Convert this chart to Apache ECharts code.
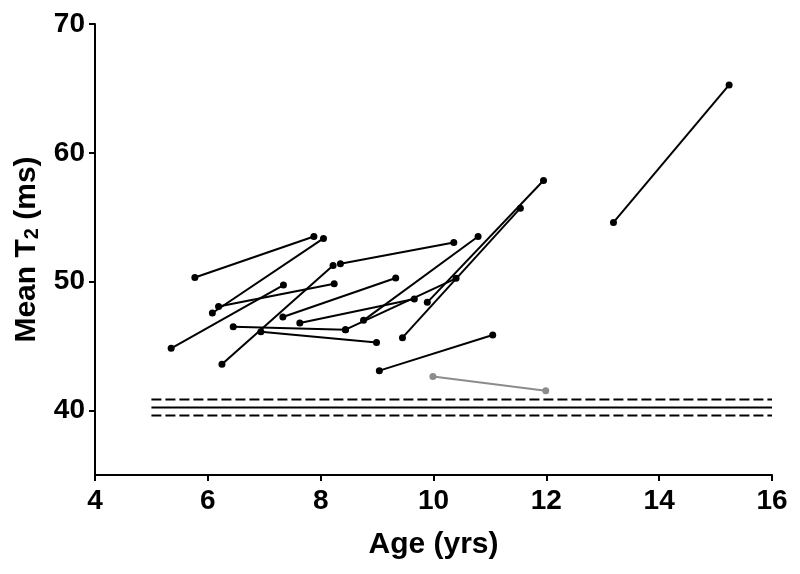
<!DOCTYPE html>
<html>
<head>
<meta charset="utf-8">
<script src="https://cdn.jsdelivr.net/npm/echarts@6/dist/echarts.min.js"></script>
<style>
  html, body { margin: 0; padding: 0; background: #fff; }
  #container { width: 800px; height: 574px; }
</style>
</head>
<body>
<div id="container"></div>
<script>
// paired measurements: first visit -> second visit
var startAge = [5.77, 6.08, 5.35, 6.19, 6.25, 8.35, 7.33, 6.45, 6.94, 7.63, 8.44, 8.76, 9.89, 9.45, 9.04, 13.19];
var startT2  = [50.33, 47.57, 44.83, 48.08, 43.59, 51.40, 47.26, 46.51, 46.12, 46.80, 46.28, 47.00, 48.40, 45.66, 43.10, 54.60];
var endAge   = [7.88, 8.05, 7.34, 8.24, 8.22, 10.36, 9.33, 8.44, 8.99, 9.66, 10.40, 10.79, 11.95, 11.54, 11.05, 15.24];
var endT2    = [53.51, 53.36, 49.74, 49.84, 51.26, 53.05, 50.29, 46.28, 45.29, 48.66, 50.26, 53.51, 57.85, 55.71, 45.87, 65.27];

// grey pair
var greyAge = [9.99, 11.99];
var greyT2  = [42.64, 41.53];

// reference band: mean and limits
var refLevels = [40.85, 40.23, 39.61];
var refTypes  = ['dashed', 'solid', 'dashed'];
var refAge    = [5, 16];

var yTicks = [40, 50, 60, 70];

var dom = document.getElementById("container");
var myChart = echarts.init(dom);
var font = 'Liberation Sans, Arial, sans-serif';

var series = [];
for (var i = 0; i < refLevels.length; i++) {
    series.push({
        type: 'line',
        data: [[refAge[0], refLevels[i]], [refAge[1], refLevels[i]]],
        showSymbol: false,
        symbol: 'none',
        silent: true,
        lineStyle: { color: '#000', width: 2, type: refTypes[i] === 'dashed' ? [10, 4] : 'solid' }
    });
}
for (var i = 0; i < startAge.length; i++) {
    series.push({
        type: 'line',
        data: [[startAge[i], startT2[i]], [endAge[i], endT2[i]]],
        symbol: 'circle',
        symbolSize: 7,
        lineStyle: { color: '#000', width: 2 },
        itemStyle: { color: '#000' }
    });
}
series.push({
    type: 'line',
    data: [[greyAge[0], greyT2[0]], [greyAge[1], greyT2[1]]],
    symbol: 'circle',
    symbolSize: 7,
    lineStyle: { color: '#8c8c8c', width: 2 },
    itemStyle: { color: '#8c8c8c' }
});

var option = {
    backgroundColor: '#fff',
    animation: false,
    grid: { left: 95, right: 28, top: 24, bottom: 99 },
    xAxis: {
        type: 'value',
        min: 4,
        max: 16,
        interval: 2,
        name: 'Age (yrs)',
        nameLocation: 'middle',
        nameGap: 55,
        nameTextStyle: { color: '#000', fontSize: 30, fontWeight: 'bold', fontFamily: font },
        splitLine: { show: false },
        axisLine: { onZero: false, lineStyle: { color: '#000', width: 2 } },
        axisTick: { length: 6, lineStyle: { color: '#000', width: 2 } },
        axisLabel: { color: '#000', fontSize: 28, fontWeight: 'bold', fontFamily: font, margin: 12 }
    },
    yAxis: {
        type: 'value',
        min: 35,
        max: 70,
        name: 'Mean T{sub|2} (ms)',
        nameLocation: 'middle',
        nameGap: 44,
        nameTextStyle: {
            color: '#000', fontSize: 30, fontWeight: 'bold', fontFamily: font,
            rich: { sub: { fontSize: 20, fontWeight: 'bold', fontFamily: font, color: '#000', verticalAlign: 'bottom', padding: [12, 0, 0, 0] } }
        },
        splitLine: { show: false },
        axisLine: { onZero: false, lineStyle: { color: '#000', width: 2 } },
        axisTick: { length: 6, customValues: yTicks, lineStyle: { color: '#000', width: 2 } },
        axisLabel: { color: '#000', fontSize: 28, fontWeight: 'bold', fontFamily: font, margin: 10, customValues: yTicks }
    },
    series: series
};

if (option && typeof option === "object") {
    myChart.setOption(option, true);
}
</script>
</body>
</html>
